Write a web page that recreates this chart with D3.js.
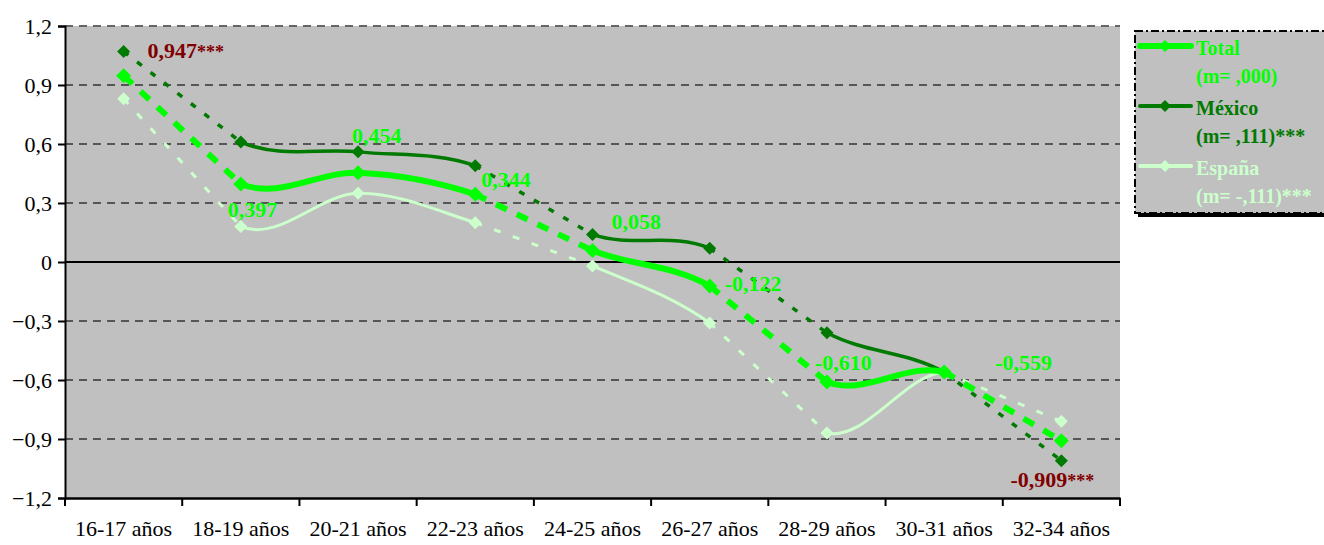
<!DOCTYPE html>
<html>
<head>
<meta charset="utf-8">
<script src="https://cdn.jsdelivr.net/npm/d3@7"></script>
<style>
  body { margin: 0; background: #fff; }
</style>
</head>
<body>
<div id="chart"></div>
<script>
// categories and tick labels
var categories = ["16-17 años", "18-19 años", "20-21 años", "22-23 años", "24-25 años",
                  "26-27 años", "28-29 años", "30-31 años", "32-34 años"];
var yTicks = [-1.2, -0.9, -0.6, -0.3, 0, 0.3, 0.6, 0.9, 1.2];

// series values
var totalValues  = [0.947, 0.397, 0.454, 0.344, 0.058, -0.122, -0.610, -0.559, -0.909];
var mexicoValues = [1.07, 0.61, 0.56, 0.49, 0.14, 0.07, -0.36, -0.56, -1.01];
var espanaValues = [0.83, 0.18, 0.35, 0.20, -0.02, -0.31, -0.87, -0.56, -0.81];

// value labels (Total series)
var labelTexts = ["0,947", "0,397", "0,454", "0,344", "0,058", "-0,122", "-0,610", "-0,559", "-0,909"];
var labelStars = ["***", "", "", "", "", "", "", "", "***"];

// segments drawn solid (smoothed) vs dashed (straight); index = start point
var solidSegments = [1, 2, 4, 6];
var dashedSegments = [0, 3, 5, 7];

var FONT = "'Liberation Serif', 'Times New Roman', Times, serif";

//setting dimensions and margins
var margin = {top: 26, right: 204, bottom: 47, left: 65},
    width = 1324 - margin.left - margin.right,
    height = 545 - margin.top - margin.bottom;

var root = d3.select("#chart")
  .append("svg")
  .attr("width", 1324)
  .attr("height", 545)
  .style("font-family", FONT);

var svg = root.append("g")
  .attr("transform", "translate(" + margin.left + "," + margin.top + ")");

var x = d3.scaleBand().domain(categories).range([0, width]).padding(0);
var y = d3.scaleLinear().domain([-1.2, 1.2]).range([height, 0]);
var cx = function(i) { return x(categories[i]) + x.bandwidth() / 2; };

//plot background
svg.append("rect")
  .attr("width", width).attr("height", height)
  .style("fill", "#C0C0C0");

//gridlines
svg.selectAll(".grid")
  .data(yTicks.filter(function(d) { return d !== 0 && d !== -1.2; }))
  .enter().append("line")
  .attr("x1", 0).attr("x2", width)
  .attr("y1", function(d) { return y(d); })
  .attr("y2", function(d) { return y(d); })
  .style("stroke", function(d) { return d === 1.2 ? "#666" : "#333"; })
  .style("stroke-width", function(d) { return d === 1.2 ? 2 : 1.3; })
  .style("stroke-dasharray", "8,6");

//zero line
svg.append("line")
  .attr("x1", 0).attr("x2", width)
  .attr("y1", y(0)).attr("y2", y(0))
  .style("stroke", "#000").style("stroke-width", 2);

//y axis
var fmt = function(d) { return d === 0 ? "0" : d3.format(".1f")(d).replace(".", ","); };
var yAxis = svg.append("g")
  .call(d3.axisLeft(y).tickValues(yTicks).tickSize(7).tickPadding(6).tickFormat(fmt))
  .attr("font-family", null);
yAxis.selectAll("text").style("font-size", "22px").style("fill", "#000").attr("dy", "0.32em");
yAxis.selectAll("line, path").style("stroke", "#000").style("stroke-width", 2);

//x axis
var xAxis = svg.append("g")
  .attr("transform", "translate(0," + height + ")")
  .call(d3.axisBottom(x).tickSize(0).tickPadding(22))
  .attr("font-family", null);
xAxis.selectAll("text").style("font-size", "22px").style("fill", "#000");
xAxis.selectAll("path").style("stroke", "#000").style("stroke-width", 2.5);
svg.selectAll(".xtick")
  .data(d3.range(categories.length + 1))
  .enter().append("line")
  .attr("x1", function(i) { return i * x.step(); })
  .attr("x2", function(i) { return i * x.step(); })
  .attr("y1", height).attr("y2", height + 8)
  .style("stroke", "#000").style("stroke-width", 2);

//series definitions
var series = [
  {name: "España", values: espanaValues, color: "#CCFFCC", width: 3, dash: "7,13", size: 6.5},
  {name: "México", values: mexicoValues, color: "#007A00", width: 3.5, dash: "6,11", size: 6.5},
  {name: "Total", values: totalValues, color: "#00FF00", width: 6, dash: "12,11", size: 7.5}
];

// smoothed segment i -> i+1, tangents taken from the neighbouring points (Catmull-Rom)
function smoothSegment(vals, i) {
  var n = vals.length;
  var pt = function(k) { k = Math.max(0, Math.min(n - 1, k)); return [cx(k), y(vals[k])]; };
  var p0 = pt(i - 1), p1 = pt(i), p2 = pt(i + 1), p3 = pt(i + 2);
  var p = d3.path();
  p.moveTo(p1[0], p1[1]);
  p.bezierCurveTo(
    p1[0] + (p2[0] - p0[0]) / 6, p1[1] + (p2[1] - p0[1]) / 6,
    p2[0] - (p3[0] - p1[0]) / 6, p2[1] - (p3[1] - p1[1]) / 6,
    p2[0], p2[1]);
  return p.toString();
}

series.forEach(function(s) {
  var g = svg.append("g");
  g.selectAll(".solid")
    .data(solidSegments)
    .enter().append("path")
    .attr("d", function(i) { return smoothSegment(s.values, i); })
    .style("fill", "none").style("stroke", s.color)
    .style("stroke-width", s.width).style("stroke-linecap", "round");
  g.selectAll(".dashed")
    .data(dashedSegments)
    .enter().append("line")
    .attr("x1", function(i) { return cx(i); })
    .attr("y1", function(i) { return y(s.values[i]); })
    .attr("x2", function(i) { return cx(i + 1); })
    .attr("y2", function(i) { return y(s.values[i + 1]); })
    .style("stroke", s.color).style("stroke-width", s.width)
    .style("stroke-dasharray", s.dash);
  g.selectAll(".pt")
    .data(s.values)
    .enter().append("path")
    .attr("d", d3.symbol().type(d3.symbolSquare).size(2 * s.size * s.size))
    .attr("transform", function(d, i) { return "translate(" + cx(i) + "," + y(d) + ") rotate(45)"; })
    .style("fill", s.color);
});

//value labels
var labelOffsets = [[24, -18], [-13, 33], [-6, -30], [6, -7], [19, -22], [15, 5], [-12, -12], [51, -2], [-51, 46]];
var labels = svg.selectAll(".vlabel")
  .data(labelTexts)
  .enter().append("text")
  .attr("x", function(d, i) { return cx(i) + labelOffsets[i][0]; })
  .attr("y", function(d, i) { return y(totalValues[i]) + labelOffsets[i][1]; })
  .style("font-size", "22px").style("font-weight", "bold")
  .style("fill", function(d, i) { return labelStars[i] ? "#800000" : "#00FF00"; });
labels.append("tspan").text(function(d) { return d; });
labels.append("tspan").style("font-size", "18px").text(function(d, i) { return labelStars[i]; });

//legend
var legendItems = [
  {label: "Total", sub: "(m= ,000)", color: "#00FF00", width: 6},
  {label: "México", sub: "(m= ,111)***", color: "#007A00", width: 4},
  {label: "España", sub: "(m= -,111)***", color: "#CCFFCC", width: 4}
];
root.append("rect")
  .attr("x", 1138).attr("y", 34).attr("width", 200).attr("height", 183)
  .style("fill", "#000");
root.append("rect")
  .attr("x", 1135).attr("y", 31).attr("width", 200).attr("height", 182)
  .style("fill", "#C0C0C0").style("stroke", "#000").style("stroke-width", 2)
  .style("stroke-dasharray", "8,3,2,3");

var leg = root.selectAll(".leg")
  .data(legendItems)
  .enter().append("g")
  .attr("transform", function(d, i) { return "translate(1140," + (46 + i * 60) + ")"; });
leg.append("line")
  .attr("x1", 0).attr("x2", 51).attr("y1", 0).attr("y2", 0)
  .style("stroke", function(d) { return d.color; })
  .style("stroke-width", function(d) { return d.width; })
  .style("stroke-linecap", "round");
leg.append("path")
  .attr("d", d3.symbol().type(d3.symbolSquare).size(72))
  .attr("transform", "translate(25,0) rotate(45)")
  .style("fill", function(d) { return d.color; });
leg.append("text")
  .attr("x", 56).attr("y", 9)
  .style("font-size", "20px").style("font-weight", "bold")
  .style("fill", function(d) { return d.color; })
  .text(function(d) { return d.label; });
leg.append("text")
  .attr("x", 56).attr("y", 37)
  .style("font-size", "20px").style("font-weight", "bold")
  .style("fill", function(d) { return d.color; })
  .text(function(d) { return d.sub; });

root.selectAll("text").style("font-family", FONT);
</script>
</body>
</html>
